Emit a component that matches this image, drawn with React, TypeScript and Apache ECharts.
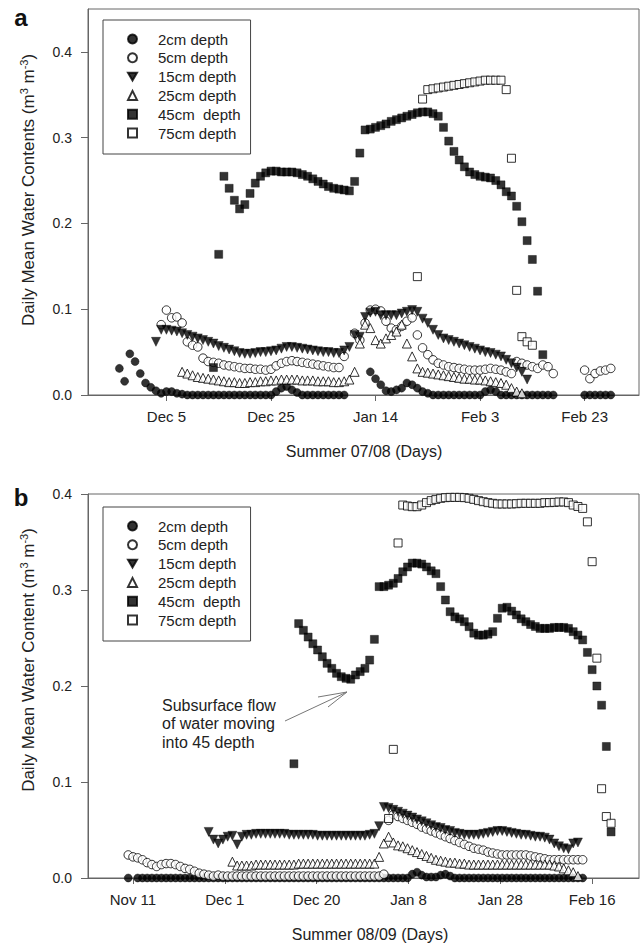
import React, { useEffect, useRef } from "react";
import * as echarts from "echarts";

const FONT = "'Liberation Sans', Arial, Helvetica, sans-serif";
const NAMES = ["2cm depth", "5cm depth", "15cm depth", "25cm depth", "45cm  depth", "75cm depth"];

// ---------- Panel a : Summer 07/08, day numbers counted from Nov 20 ----------
const A_TICKS = [15, 35, 55, 75, 95];
const A_TICK_LABELS = ["Dec 5", "Dec 25", "Jan 14", "Feb 3", "Feb 23"];
const Y_TICKS = [0, 0.1, 0.2, 0.3, 0.4];

const A2_START = 6;
const A2 = [
  0.031, 0.016, 0.048, 0.039, 0.025, 0.014, 0.009, 0.005, 0.002, 0.004, 0.004, 0.002, 0.001,
  0, 0, 0, 0, 0, 0, 0, 0, 0, 0, 0, 0, 0, 0, 0, 0, 0,
  0.004, 0.008, 0.010, 0.006, 0.003,
  0, 0, 0, 0, 0, 0, 0, 0, 0,
  null, null, null, null,
  0.027, 0.019, 0.012, 0.005, 0.004, 0.006, 0.008, 0.014, 0.012, 0.008, 0.004, 0.002,
  0, 0, 0, 0, 0, 0, 0, 0, 0, 0,
  0.004, 0.006, 0.004,
  0, 0, 0, 0, 0, 0, 0, 0, 0, 0, 0,
  null, null, null, null, null,
  0, 0, 0, 0, 0, 0,
];

const A5_START = 14;
const A5 = [
  0.082, 0.099, 0.090, 0.091, 0.084, 0.062, 0.058, 0.056, 0.043, 0.039, 0.038, 0.037, 0.035, 0.034,
  0.033, 0.032, 0.031, 0.031, 0.030, 0.030, 0.029, 0.030, 0.034, 0.037, 0.039, 0.040, 0.039, 0.038,
  0.037, 0.036, 0.035, 0.034, 0.033, 0.032, 0.032, 0.045, null, 0.072, 0.064, 0.084, 0.099, 0.100,
  0.098, 0.086, 0.078, 0.076, 0.080, 0.086, 0.090, 0.070, 0.055, 0.047, 0.041, 0.037, 0.035, 0.033,
  0.032, 0.031, 0.030, 0.029, 0.029, 0.029, 0.030, 0.031, 0.030, 0.029, 0.027, 0.025, 0.039, 0.037,
  0.035, 0.033, 0.031, 0.035, 0.033, 0.025, null, null, null, null, null, 0.029, 0.019, 0.025, 0.028,
  0.029, 0.031,
];

const A15_START = 13;
const A15 = [
  0.062, 0.076, 0.076, 0.075, 0.074, 0.072, 0.070, 0.068, 0.066, 0.064, 0.062, 0.060, 0.057, 0.055,
  0.053, 0.051, 0.049, 0.048, 0.048, 0.049, 0.050, 0.050, 0.051, 0.052, 0.054, 0.056, 0.056, 0.055,
  0.054, 0.053, 0.052, 0.051, 0.050, 0.050, 0.049, 0.049, 0.052, 0.056, 0.070, 0.068, 0.091, 0.096,
  0.097, 0.093, 0.093, 0.093, 0.093, 0.095, 0.097, 0.099, 0.097, 0.089, 0.084, 0.076, 0.070, 0.066,
  0.064, 0.062, 0.060, 0.058, 0.056, 0.054, 0.052, 0.050, 0.049, 0.047, 0.045, 0.041, 0.037, 0.032,
  0.027, 0.018,
];

const A25_START = 18;
const A25 = [
  0.027, 0.025, 0.023, 0.021, 0.020, 0.019, 0.018, 0.017, 0.016, 0.015, 0.015, 0.014, 0.014, 0.015,
  0.015, 0.016, 0.016, 0.017, 0.017, 0.018, 0.018, 0.018, 0.018, 0.017, 0.017, 0.017, 0.016, 0.016,
  0.016, 0.015, 0.015, 0.016, 0.018, 0.027, 0.060, 0.082, 0.078, 0.064, 0.060, 0.066, 0.070, 0.074,
  0.082, 0.060, 0.045, 0.031, 0.027, 0.026, 0.025, 0.024, 0.023, 0.022, 0.021, 0.020, 0.019, 0.019,
  0.018, 0.018, 0.017, 0.016, 0.015, 0.014, 0.012, 0.008, 0.004, 0.002,
];

const A45_START = 24;
const A45 = [
  0.032, 0.164, 0.255, 0.241, 0.227, 0.217, 0.222, 0.235, 0.247, 0.255, 0.259, 0.261, 0.261, 0.260,
  0.260, 0.260, 0.259, 0.257, 0.255, 0.252, 0.249, 0.246, 0.243, 0.241, 0.240, 0.239, 0.238, 0.249,
  0.282, 0.309, 0.310, 0.312, 0.314, 0.316, 0.319, 0.321, 0.323, 0.325, 0.327, 0.329, 0.330, 0.330,
  0.328, 0.325, 0.312, 0.296, 0.284, 0.274, 0.266, 0.260, 0.257, 0.255, 0.254, 0.253, 0.250, 0.245,
  0.237, 0.232, 0.220, 0.202, 0.180, 0.158, 0.121, 0.047,
];

const A75_START = 63;
const A75 = [
  0.138, 0.345, 0.356, 0.357, 0.358, 0.359, 0.360, 0.361, 0.362, 0.363, 0.364, 0.365, 0.366, 0.367,
  0.367, 0.367, 0.367, 0.356, 0.276, 0.122, 0.068, 0.062, 0.058,
];

// ---------- Panel b : Summer 08/09, day numbers counted from Nov 11 ----------
const B_TICKS = [0, 19.4, 38.8, 58.2, 77.6, 97];
const B_TICK_LABELS = ["Nov 11", "Dec 1", "Dec 20", "Jan 8", "Jan 28", "Feb 16"];

const B2_START = -1;
const B2 = [
  0, null,
  0, 0, 0, 0, 0, 0, 0, 0, 0, 0, 0, 0, 0, 0, 0, 0, 0, 0, 0, 0,
  0, 0, 0, 0, 0, 0, 0, 0, 0, 0, 0, 0, 0, 0, 0, 0, 0, 0, 0, 0,
  0, 0, 0, 0, 0, 0, 0, 0, 0, 0, 0, 0, 0, 0, 0, 0, 0, 0,
  0.004, 0.006, 0.003, 0.001, 0.001, 0.001, 0.003, 0.004, 0.002,
  0, 0, 0, 0, 0, 0, 0, 0, 0, 0, 0, 0, 0, 0, 0, 0, 0, 0, 0, 0, 0, 0, 0, 0, 0, 0, 0, 0,
];

const B5_START = -1;
const B5 = [
  0.024, 0.022, 0.021, 0.019, 0.016, 0.014, 0.012, 0.014, 0.015, 0.015, 0.014, 0.012, 0.010, 0.009,
  0.007, 0.005, 0.004, 0.003, 0.002, 0.003,
  0.002, 0.002, 0.002, 0.002, 0.002, 0.002, 0.002, 0.002, 0.002, 0.002, 0.002, 0.002, 0.002, 0.002,
  0.002, 0.002, 0.002, 0.002, 0.002, 0.002, 0.002, 0.002, 0.002, 0.002, 0.002, 0.002, 0.002, 0.002,
  0.002, 0.002, 0.002, 0.002, 0.002, 0.002, 0.004,
  0.060, 0.066, 0.064, 0.062, 0.060, 0.058, 0.056, 0.053, 0.051, 0.049, 0.047, 0.045, 0.043, 0.041,
  0.039, 0.037, 0.035, 0.033, 0.031, 0.030, 0.029, 0.027, 0.026, 0.025, 0.024, 0.024, 0.024, 0.024,
  0.024, 0.024, 0.023, 0.022, 0.021, 0.020, 0.019, 0.019, 0.019, 0.019, 0.019, 0.019, 0.019, 0.019,
];

const B15_START = 16;
const B15 = [
  0.048, 0.040, 0.036, 0.040, 0.043, 0.044, 0.035, 0.043, 0.045, 0.045, 0.046, 0.046, 0.046, 0.046,
  0.046, 0.046, 0.046, 0.045, 0.045, 0.045, 0.045, 0.045, 0.045, 0.044, 0.044, 0.044, 0.044, 0.044,
  0.044, 0.044, 0.044, 0.044, 0.044, 0.044, 0.045, 0.046, 0.054, 0.074, 0.073, 0.071, 0.069, 0.067,
  0.065, 0.063, 0.061, 0.059, 0.057, 0.055, 0.053, 0.052, 0.050, 0.049, 0.047, 0.046, 0.045, 0.045,
  0.045, 0.045, 0.046, 0.047, 0.048, 0.049, 0.049, 0.048, 0.047, 0.046, 0.045, 0.045, 0.044, 0.043,
  0.043, 0.042, 0.040, 0.036, 0.033, 0.031, 0.030, 0.036, 0.037,
];

const B25_START = 21;
const B25 = [
  0.017, 0.013, 0.013, 0.013, 0.013, 0.014, 0.014, 0.014, 0.014, 0.014, 0.014, 0.014, 0.014, 0.014,
  0.015, 0.015, 0.015, 0.015, 0.015, 0.015, 0.015, 0.015, 0.015, 0.015, 0.015, 0.015, 0.015, 0.015,
  0.015, 0.015, 0.015, 0.022, 0.036, 0.043, 0.037, 0.034, 0.033, 0.031, 0.029, 0.027, 0.025, 0.023,
  0.021, 0.019, 0.018, 0.017, 0.016, 0.016, 0.015, 0.015, 0.014, 0.014, 0.014, 0.014, 0.014, 0.014,
  0.014, 0.014, 0.014, 0.014, 0.014, 0.014, 0.014, 0.014, 0.014, 0.014, 0.014, 0.014, 0.013, 0.012,
  0.010, 0.008, 0.006, 0.002,
];

const B45_START = 34;
const B45 = [
  0.119, 0.265, 0.258, 0.251, 0.244, 0.2375, 0.2305, 0.2236, 0.2184, 0.2132, 0.2097, 0.208, 0.207,
  0.2115, 0.215, 0.2184, 0.227, 0.2486, 0.3035, 0.3035, 0.305, 0.307, 0.312, 0.319, 0.324, 0.328,
  0.328, 0.327, 0.324, 0.320, 0.317, 0.3035, 0.2896, 0.2774, 0.272, 0.270, 0.267, 0.2618, 0.255,
  0.253, 0.253, 0.254, 0.2566, 0.2705, 0.281, 0.282, 0.278, 0.274, 0.270, 0.267, 0.264, 0.262,
  0.260, 0.260, 0.260, 0.261, 0.261, 0.261, 0.260, 0.2566, 0.253, 0.248, 0.235, 0.217, 0.200, 0.180,
  0.137, 0.048,
];

const B75_START = 54;
const B75 = [
  0.062, 0.134, 0.349, 0.3885, 0.3875, 0.3868, 0.3868, 0.3885, 0.391, 0.3931, 0.3944, 0.3955, 0.3962,
  0.3965, 0.3965, 0.3965, 0.3962, 0.3955, 0.3944, 0.3931, 0.392, 0.391, 0.3903, 0.3896, 0.3896,
  0.3896, 0.3896, 0.3899, 0.3903, 0.3903, 0.3903, 0.3903, 0.3903, 0.391, 0.391, 0.3913, 0.3917,
  0.3917, 0.391, 0.3885, 0.387, 0.385, 0.371, 0.3295, 0.229, 0.093, 0.064, 0.057,
];

const toPoints = (start: number, vals: (number | null)[]) =>
  vals.map((v, i) => (v == null ? null : [start + i, v])).filter((p) => p !== null);

const FILLED = { color: "#000", borderColor: "#000", borderWidth: 0.5 };
const OPEN = { color: "#fff", borderColor: "#000", borderWidth: 1 };

const DOWN_TRIANGLE = "path://M0,0 L20,0 L10,17.3 Z";

const MARKERS = [
  { symbol: "circle", size: 8, rotate: 0, style: FILLED },
  { symbol: "circle", size: 8.5, rotate: 0, style: OPEN },
  { symbol: "triangle", size: 9, rotate: 180, style: FILLED },
  { symbol: "triangle", size: 9, rotate: 0, style: OPEN },
  { symbol: "rect", size: 8, rotate: 0, style: FILLED },
  { symbol: "rect", size: 8, rotate: 0, style: OPEN },
];

const PANEL_A = [
  toPoints(A2_START, A2), toPoints(A5_START, A5), toPoints(A15_START, A15),
  toPoints(A25_START, A25), toPoints(A45_START, A45), toPoints(A75_START, A75),
];
const PANEL_B = [
  toPoints(B2_START, B2), toPoints(B5_START, B5), toPoints(B15_START, B15),
  toPoints(B25_START, B25), toPoints(B45_START, B45), toPoints(B75_START, B75),
];

const labelFor = (ticks: number[], labels: string[]) => (v: number) => {
  const i = ticks.findIndex((t) => Math.abs(t - v) < 1e-6);
  return i >= 0 ? labels[i] : "";
};

const AXIS_COLOR = "#666";
const TEXT_COLOR = "#222";

function xAxis(grid: number, min: number, max: number, ticks: number[], labels: string[]) {
  return {
    type: "value", gridIndex: grid, min, max,
    axisLine: { show: true, onZero: false, lineStyle: { color: AXIS_COLOR, width: 1 } },
    axisTick: { show: true, inside: false, length: 6, customValues: ticks, lineStyle: { color: AXIS_COLOR } },
    axisLabel: {
      customValues: ticks, formatter: labelFor(ticks, labels), margin: 14,
      color: TEXT_COLOR, fontSize: 15, fontFamily: FONT,
    },
    splitLine: { show: false },
  };
}

function yAxis(grid: number, max: number) {
  return {
    type: "value", gridIndex: grid, min: 0, max,
    axisLine: { show: true, onZero: false, lineStyle: { color: AXIS_COLOR, width: 1 } },
    axisTick: { show: true, inside: false, length: 7, customValues: Y_TICKS, lineStyle: { color: AXIS_COLOR } },
    axisLabel: {
      customValues: Y_TICKS, formatter: (v: number) => v.toFixed(1), margin: 16,
      color: TEXT_COLOR, fontSize: 14, fontFamily: FONT,
    },
    splitLine: { show: false },
  };
}

function legend(top: number) {
  return {
    data: NAMES.map((n, k) => (k === 2 ? { name: n, icon: DOWN_TRIANGLE } : { name: n })),
    left: 103, top, orient: "vertical", selectedMode: false,
    borderColor: "#444", borderWidth: 1, padding: [11, 10, 13, 24], itemGap: 2.8,
    itemWidth: 9, itemHeight: 9,
    textStyle: { fontSize: 15, fontFamily: FONT, color: TEXT_COLOR, lineHeight: 16, padding: [0, 0, 0, 16] },
  };
}

function seriesFor(panel: (number[] | null)[][], axis: number) {
  return panel.map((data, k) => ({
    type: "scatter", name: NAMES[k], xAxisIndex: axis, yAxisIndex: axis, data,
    symbol: MARKERS[k].symbol, symbolSize: MARKERS[k].size, symbolRotate: MARKERS[k].rotate,
    itemStyle: MARKERS[k].style, clip: false, silent: true, z: 2 + k,
  }));
}

const yTitle = (text: string, x: number, y: number) => ({
  type: "text", x, y, rotation: Math.PI / 2,
  style: {
    text: `{m|${text} (m}{s|3}{m| m}{s|-3}{m|)}`,
    align: "center", verticalAlign: "middle", fill: TEXT_COLOR, fontFamily: FONT,
    rich: {
      m: { fontSize: 17, fontFamily: FONT, fill: TEXT_COLOR, lineHeight: 20 },
      s: { fontSize: 11, fontFamily: FONT, fill: TEXT_COLOR, verticalAlign: "top", lineHeight: 20 },
    },
  },
});

export default function App() {
  const ref = useRef<HTMLDivElement>(null);
  useEffect(() => {
    document.body.style.margin = "0";
    const chart = echarts.init(ref.current!, undefined, { renderer: "svg" });
    chart.setOption({
      animation: false,
      backgroundColor: "#fff",
      textStyle: { fontFamily: FONT },
      grid: [
        { left: 88, top: 9, width: 551, height: 386, show: true, borderColor: AXIS_COLOR, borderWidth: 1 },
        { left: 88, top: 494, width: 551, height: 384, show: true, borderColor: AXIS_COLOR, borderWidth: 1 },
      ],
      xAxis: [
        xAxis(0, 0, 105.4, A_TICKS, A_TICK_LABELS),
        xAxis(1, -9.5, 106.9, B_TICKS, B_TICK_LABELS),
      ],
      yAxis: [yAxis(0, 0.45), yAxis(1, 0.4)],
      legend: [legend(20), legend(507)],
      series: [...seriesFor(PANEL_A, 0), ...seriesFor(PANEL_B, 1)],
      graphic: [
        { type: "text", x: 21, y: 17, style: { text: "a", fontSize: 24, fontWeight: "bold", fontFamily: FONT, fill: "#111", align: "center", verticalAlign: "middle" } },
        { type: "text", x: 21, y: 497, style: { text: "b", fontSize: 24, fontWeight: "bold", fontFamily: FONT, fill: "#111", align: "center", verticalAlign: "middle" } },
        yTitle("Daily Mean Water Contents", 28.5, 190),
        yTitle("Daily Mean Water Content", 28.5, 660),
        { type: "text", x: 364, y: 451, style: { text: "Summer 07/08 (Days)", fontSize: 16, fontFamily: FONT, fill: TEXT_COLOR, align: "center", verticalAlign: "middle" } },
        { type: "text", x: 370, y: 934, style: { text: "Summer 08/09 (Days)", fontSize: 16, fontFamily: FONT, fill: TEXT_COLOR, align: "center", verticalAlign: "middle" } },
        { type: "text", x: 162, y: 696, style: { text: "Subsurface flow\nof water moving\ninto 45 depth", fontSize: 16, lineHeight: 18.5, fontFamily: FONT, fill: TEXT_COLOR, align: "left", verticalAlign: "top" } },
        { type: "line", shape: { x1: 285, y1: 721, x2: 347, y2: 692 }, style: { stroke: "#777", lineWidth: 1 } },
        { type: "polyline", shape: { points: [[318, 697], [347, 692], [328, 707]] }, style: { stroke: "#777", lineWidth: 1, fill: null } },
      ],
    });
    return () => chart.dispose();
  }, []);
  return <div ref={ref} style={{ width: 641, height: 944 }} />;
}
